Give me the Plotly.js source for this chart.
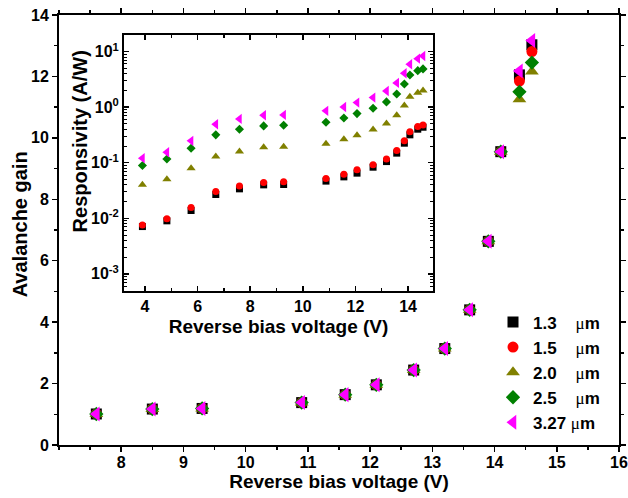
<!DOCTYPE html>
<html>
<head>
<meta charset="utf-8">
<script src="https://cdn.plot.ly/plotly-3.0.1.min.js"></script>
<style>html,body{margin:0;padding:0;background:#fff;}#chart{width:628px;height:498px;}</style>
</head>
<body>
<div id="chart"></div>
<script>
// ---- Main plot data: avalanche gain vs reverse bias ----
var mainVoltage = [7.6, 8.5, 9.3, 10.9, 11.6, 12.1, 12.7, 13.2, 13.6, 13.9, 14.1, 14.4, 14.6];
var gain13  = [1.01, 1.17, 1.19, 1.38, 1.64, 1.96, 2.44, 3.14, 4.40, 6.63, 9.55, 12.05, 13.03];
var gain15  = [1.01, 1.17, 1.19, 1.38, 1.64, 1.96, 2.44, 3.14, 4.40, 6.63, 9.55, 11.85, 12.81];
var gain20  = [1.01, 1.17, 1.19, 1.38, 1.64, 1.96, 2.44, 3.14, 4.40, 6.63, 9.55, 11.26, 12.16];
var gain25  = [1.01, 1.17, 1.19, 1.38, 1.64, 1.96, 2.44, 3.14, 4.40, 6.63, 9.55, 11.50, 12.45];
var gain327 = [1.01, 1.17, 1.19, 1.38, 1.64, 1.96, 2.44, 3.14, 4.40, 6.63, 9.55, 12.18, 13.17];

// ---- Inset data: responsivity (A/W) vs reverse bias ----
var insetVoltage = [3.9, 4.83, 5.75, 6.69, 7.59, 8.51, 9.27, 10.88, 11.56, 12.06, 12.67, 13.18, 13.57, 13.86, 14.07, 14.37, 14.57];
var resp13  = [0.0071, 0.0090, 0.0138, 0.0268, 0.0339, 0.040, 0.0406, 0.0467, 0.0557, 0.065, 0.0832, 0.105, 0.149, 0.225, 0.318, 0.402, 0.436];
var resp15  = [0.0076, 0.0098, 0.0156, 0.0303, 0.038, 0.044, 0.0454, 0.052, 0.0624, 0.0745, 0.0916, 0.117, 0.166, 0.248, 0.36, 0.448, 0.48];
var resp20  = [0.040, 0.0507, 0.080, 0.129, 0.159, 0.19, 0.195, 0.221, 0.265, 0.313, 0.395, 0.507, 0.718, 1.07, 1.55, 1.83, 1.99];
var resp25  = [0.089, 0.117, 0.183, 0.318, 0.402, 0.461, 0.474, 0.537, 0.641, 0.767, 0.959, 1.245, 1.73, 2.62, 3.81, 4.55, 4.89];
var resp327 = [0.121, 0.155, 0.248, 0.494, 0.616, 0.718, 0.727, 0.86, 1.01, 1.21, 1.49, 1.96, 2.74, 4.08, 5.93, 7.48, 8.37];

// ---- Tick labels ----
var mainXTicks = [8, 9, 10, 11, 12, 13, 14, 15, 16];
var insetYTickVals = [0.001, 0.01, 0.1, 1, 10];
var insetYTickText = ["10<sup>-3</sup>", "10<sup>-2</sup>", "10<sup>-1</sup>", "10<sup>0</sup>", "10<sup>1</sup>"];

var seriesNames = ["1.3", "1.5", "2.0", "2.5", "3.27"];
var seriesPad = ["\u00A0\u00A0\u00A0\u00A0", "\u00A0\u00A0\u00A0\u00A0", "\u00A0\u00A0\u00A0\u00A0", "\u00A0\u00A0\u00A0\u00A0", "\u00A0"];
var seriesColors = ["#000000", "#ff0000", "#808000", "#008000", "#ff00ff"];
var seriesSymbols = ["square", "circle", "triangle-up", "diamond", "triangle-left"];
var mainSizes = [11, 11, 12, 11, 13];
var insetSizes = [7, 7, 8, 7, 9];
var gains = [gain13, gain15, gain20, gain25, gain327];
var resps = [resp13, resp15, resp20, resp25, resp327];

var FONT = "Arial, 'Liberation Sans', sans-serif";
var traces = [];
for (var i = 0; i < 5; i++) {
  traces.push({
    x: mainVoltage, y: gains[i], type: "scatter", mode: "markers",
    name: seriesNames[i] + seriesPad[i] + "<span style=\"font-family:'Liberation Serif',serif;font-weight:normal\">\u03bc</span>m",
    marker: {symbol: seriesSymbols[i], color: seriesColors[i], size: mainSizes[i], line: {width: 0}},
    xaxis: "x", yaxis: "y", cliponaxis: false
  });
}
for (var j = 0; j < 5; j++) {
  traces.push({
    x: insetVoltage, y: resps[j], type: "scatter", mode: "markers",
    showlegend: false,
    marker: {symbol: seriesSymbols[j], color: seriesColors[j], size: insetSizes[j], line: {width: 0}},
    xaxis: "x2", yaxis: "y2"
  });
}

var tickFont = {family: FONT, size: 16, color: "#000", weight: "bold"};
var xTitleFont = {family: FONT, size: 19, color: "#000", weight: "bold"};
var yTitleFont = {family: FONT, size: 20, color: "#000", weight: "bold"};

var layout = {
  width: 628, height: 498,
  margin: {l: 59, r: 9, t: 15, b: 53},
  paper_bgcolor: "#fff", plot_bgcolor: "#fff",
  font: {family: FONT, color: "#000"},
  showlegend: true,
  legend: {
    x: 0.775, y: 0.327, xanchor: "left", yanchor: "top",
    bgcolor: "rgba(0,0,0,0)", borderwidth: 0,
    font: {family: FONT, size: 17, color: "#000", weight: "bold"},
    itemsizing: "trace", tracegroupgap: 0
  },
  xaxis: {
    domain: [0, 1], range: [7, 16], tickvals: mainXTicks, ticklabeloverflow: "allow",
    ticks: "outside", ticklen: 5, tickwidth: 1.5, tickcolor: "#000", ticklabelstandoff: -3,
    minor: {dtick: 0.5, tick0: 7, ticks: "outside", ticklen: 3, tickwidth: 1.5, tickcolor: "#000"},
    showline: true, linewidth: 2, linecolor: "#000", mirror: "ticks",
    showgrid: false, zeroline: false, tickfont: tickFont,
    title: {text: "Reverse bias voltage (V)", font: xTitleFont, standoff: 2}
  },
  yaxis: {
    domain: [0, 1], range: [0, 14], dtick: 2, tick0: 0,
    ticks: "outside", ticklen: 5, tickwidth: 1.5, tickcolor: "#000",
    minor: {dtick: 1, ticks: "outside", ticklen: 3, tickwidth: 1.5, tickcolor: "#000"},
    showline: true, linewidth: 2, linecolor: "#000", mirror: "ticks",
    showgrid: false, zeroline: false, tickfont: tickFont
  },
  xaxis2: {
    domain: [0.1161, 0.6679], anchor: "y2", range: [3.2, 14.95], dtick: 2, tick0: 4,
    ticks: "inside", ticklen: 5, tickwidth: 1.5, tickcolor: "#000",
    minor: {dtick: 1, ticks: "inside", ticklen: 3, tickwidth: 1.2, tickcolor: "#000"},
    showline: true, linewidth: 2, linecolor: "#000", mirror: "ticks",
    showgrid: false, zeroline: false, tickfont: tickFont,
    title: {text: "Reverse bias voltage (V)", font: xTitleFont, standoff: 5}
  },
  yaxis2: {
    domain: [0.358, 0.9535], anchor: "x2", type: "log", range: [-3.31, 1.30],
    tickvals: insetYTickVals, ticktext: insetYTickText,
    ticks: "inside", ticklen: 5, tickwidth: 1.5, tickcolor: "#000",
    minor: {dtick: "D1", ticks: "inside", ticklen: 3, tickwidth: 1, tickcolor: "#000"},
    showline: true, linewidth: 2, linecolor: "#000", mirror: "ticks",
    showgrid: false, zeroline: false, tickfont: tickFont
  },
  annotations: [
    {text: "Avalanche gain", xref: "paper", yref: "paper", x: -0.069, y: 0.514,
     xanchor: "center", yanchor: "middle", textangle: -90, showarrow: false, font: yTitleFont},
    {text: "Responsivity (A/W)", xref: "paper", yref: "paper", x: 0.0375, y: 0.706,
     xanchor: "center", yanchor: "middle", textangle: -90, showarrow: false, font: yTitleFont}
  ]
};

Plotly.newPlot("chart", traces, layout, {displayModeBar: false, staticPlot: true});
</script>
</body>
</html>
